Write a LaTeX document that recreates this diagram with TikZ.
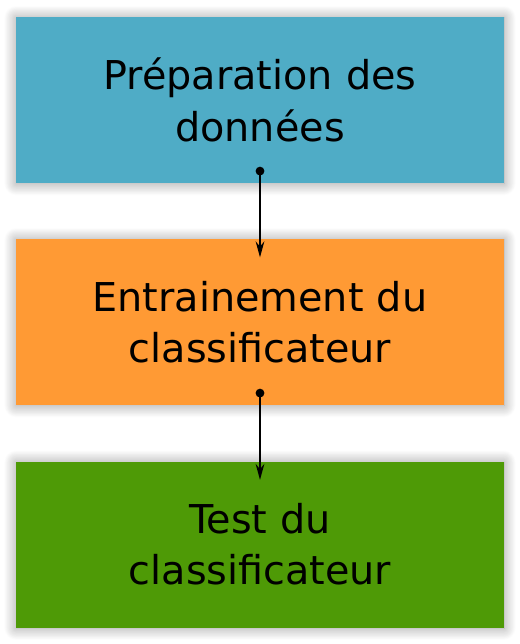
\documentclass[tikz,border=0pt]{standalone}
\usepackage{fontspec}
\setmainfont{DejaVu Sans}
\usetikzlibrary{arrows.meta,shadows.blur}

\definecolor{stepblue}{RGB}{79,172,198}
\definecolor{steporange}{RGB}{255,154,52}
\definecolor{stepgreen}{RGB}{78,154,6}

\tikzset{
  stagebox/.style={minimum width=366pt, minimum height=124.5pt, text width=340pt,
    align=center, inner sep=0pt, font=\fontsize{29.8}{38.5}\selectfont,
    blur shadow={shadow xshift=0pt, shadow yshift=-0.5pt, shadow blur radius=9pt,
      shadow blur steps=20, shadow opacity=40}},
  flowarrow/.style={line width=1.3pt, {Circle[length=6.5pt]}-{Stealth[length=12pt,width=6.5pt]},
    shorten <=-12.4pt, shorten >=-14pt}
}

\begin{document}
\begin{tikzpicture}[x=0.75pt,y=0.75pt,yscale=-1,xscale=1]
\useasboundingbox (0,0) rectangle (520,644);

%Shape: Rectangle
\node (prep) [stagebox, fill=stepblue] at (260,100) {Préparation des\\données};
%Shape: Rectangle
\node (train) [stagebox, fill=steporange] at (260,322) {Entrainement du\\classificateur};
%Shape: Rectangle
\node (test) [stagebox, fill=stepgreen] at (260,544.5) {Test du\\classificateur};

%Straight Lines
\draw [flowarrow] (prep) -- (train);
\draw [flowarrow] (train) -- (test);

\end{tikzpicture}
\end{document}
